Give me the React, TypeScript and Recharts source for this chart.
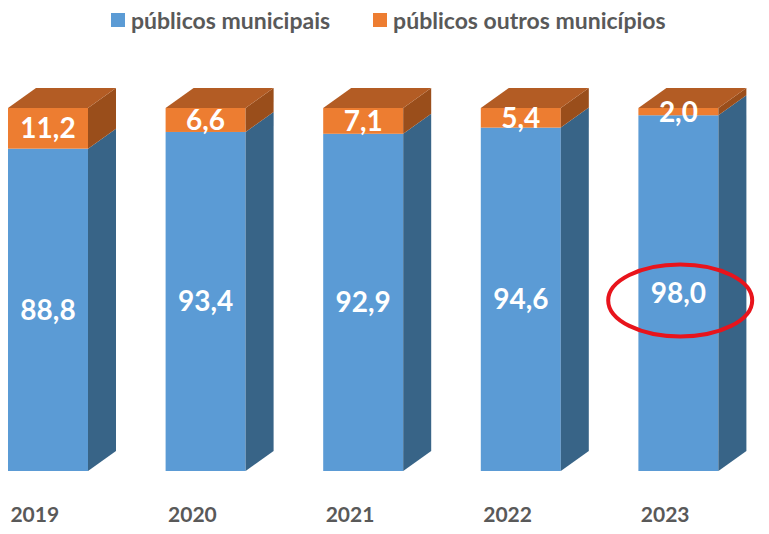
import React from "react";
import { BarChart, Bar, XAxis, YAxis, Legend, LabelList, ReferenceDot } from "recharts";

const years = ["2019", "2020", "2021", "2022", "2023"];
const municipais = [88.8, 93.4, 92.9, 94.6, 98.0];
const outros = [11.2, 6.6, 7.1, 5.4, 2.0];
const seriesNames = ["públicos municipais", "públicos outros municípios"];
const highlightYear = "2023";

const data = years.map((year, i) => ({ year, municipais: municipais[i], outros: outros[i] }));

const DX = 28;
const DY = 20;
const GREY = "#595959";
const FONT = "Lato, 'Open Sans', sans-serif";

function Box3D(props: any) {
  const { x, y, width, height, fill, side, top } = props;
  if (!height) return null;
  const r = x + width;
  return (
    <g>
      <rect x={x} y={y} width={width} height={height} fill={fill} />
      <polygon points={`${r},${y} ${r + DX},${y - DY} ${r + DX},${y + height - DY} ${r},${y + height}`} fill={side} />
      {top && (
        <polygon points={`${x},${y} ${x + DX},${y - DY} ${r + DX},${y - DY} ${r},${y}`} fill={top} />
      )}
    </g>
  );
}

const fmt = (v: any) => Number(v).toFixed(1).replace(".", ",");

function YearTick(props: any) {
  const { x, y, payload } = props;
  return (
    <text x={x - 13} y={y + 51} textAnchor="middle" fill={GREY} fontSize={21} fontWeight={700}
      fontFamily={FONT}>
      {payload.value}
    </text>
  );
}

function LegendContent(props: any) {
  const { payload } = props;
  return (
    <div style={{ display: "flex", justifyContent: "flex-start", paddingLeft: 111, fontFamily: FONT }}>
      {(payload || []).map((p: any, i: number) => (
        <div key={i} style={{ display: "flex", alignItems: "center", marginRight: 43 }}>
          <span style={{ width: 14, height: 14, background: p.color, display: "inline-block", marginRight: 6 }} />
          <span style={{ color: GREY, fontSize: 23, fontWeight: 700, lineHeight: "40px" }}>{p.value}</span>
        </div>
      ))}
    </div>
  );
}

function Ellipse(props: any) {
  const { cx, cy } = props;
  return <ellipse cx={cx + 2} cy={cy} rx={72} ry={36} fill="none" stroke="#E8141C" strokeWidth={4} />;
}

export default function App() {
  return (
    <div style={{ position: "absolute", left: 0, top: 0, background: "#fff" }}>
      <BarChart width={769} height={534} data={data} margin={{ top: 108, right: 12, left: -31, bottom: 0 }}>
        <XAxis dataKey="year" axisLine={false} tickLine={false} tickSize={0} tickMargin={0} height={63}
          interval={0} tick={<YearTick />} />
        <YAxis hide domain={[0, 100]} />
        <Legend verticalAlign="middle" align="center" wrapperStyle={{ top: 0, left: 0, width: 769 }}
          content={<LegendContent />} />
        <Bar dataKey="municipais" name={seriesNames[0]} stackId="a" barSize={80} fill="#5B9BD5"
          isAnimationActive={false} shape={(p: any) => <Box3D {...p} side="#386487" />}>
          <LabelList dataKey="municipais" position="center" formatter={fmt} fill="#fff" fontSize={28}
            fontWeight={700} fontFamily={FONT} />
        </Bar>
        <Bar dataKey="outros" name={seriesNames[1]} stackId="a" barSize={80} fill="#ED7D31"
          isAnimationActive={false} shape={(p: any) => <Box3D {...p} side="#9A4E1B" top="#B35C24" />}>
          <LabelList dataKey="outros" position="center" formatter={fmt} fill="#fff" fontSize={28}
            fontWeight={700} fontFamily={FONT} />
        </Bar>
        <ReferenceDot x={highlightYear} y={47} r={1} shape={(p: any) => <Ellipse {...p} />} />
      </BarChart>
    </div>
  );
}
